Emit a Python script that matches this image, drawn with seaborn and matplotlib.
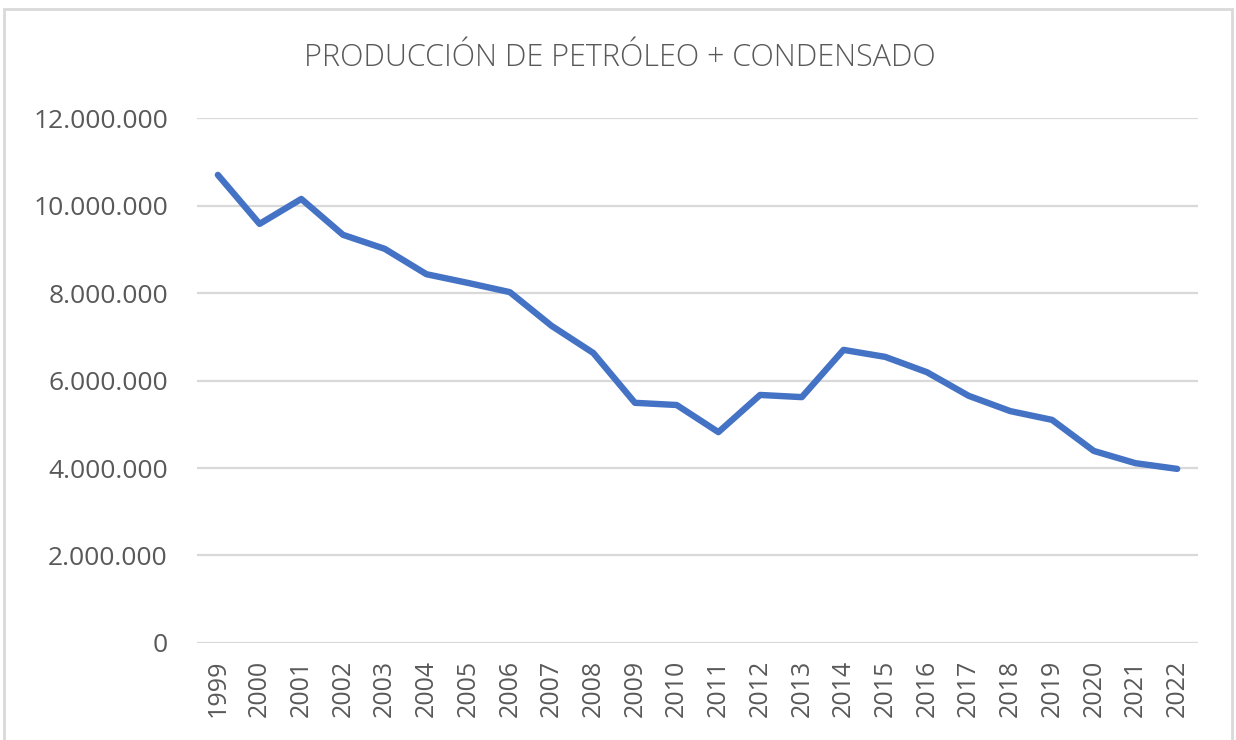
import matplotlib
matplotlib.use("Agg")
import matplotlib.pyplot as plt
import matplotlib.ticker as mticker
from matplotlib.patches import Rectangle
import pandas as pd
import seaborn as sns

# ----------------------------------------------
# Data
# ----------------------------------------------
YEARS = [str(y) for y in range(1999, 2023)]
PRODUCTION = [
    10_700_000, 9_580_000, 10_150_000, 9_330_000, 9_010_000, 8_430_000,
    8_230_000, 8_020_000, 7_250_000, 6_630_000, 5_490_000, 5_440_000,
    4_820_000, 5_670_000, 5_620_000, 6_700_000, 6_540_000, 6_190_000,
    5_650_000, 5_300_000, 5_100_000, 4_390_000, 4_110_000, 3_980_000,
]
Y_TICKS = [0, 2_000_000, 4_000_000, 6_000_000, 8_000_000, 10_000_000, 12_000_000]
TITLE = "PRODUCCIÓN DE PETRÓLEO + CONDENSADO"

LINE_COLOR = "#4472C4"
GRID_COLOR = "#D9D9D9"
TEXT_COLOR = "#595959"

df = pd.DataFrame({"year": YEARS, "production": PRODUCTION})

sns.set_theme(style="white")
plt.rcParams["font.family"] = ["Open Sans", "DejaVu Sans"]

fig = plt.figure(figsize=(12.36, 7.4), dpi=100)
ax = fig.add_axes([0.1594, 0.1311, 0.9693 - 0.1594, 0.8405 - 0.1311])

sns.lineplot(data=df, x="year", y="production", ax=ax, color=LINE_COLOR,
             linewidth=4.6, solid_capstyle="round", solid_joinstyle="round",
             sort=False)

ax.set_xlim(-0.5, len(YEARS) - 0.5)
ax.set_ylim(0, 12_000_000)
ax.set_yticks(Y_TICKS)
ax.yaxis.set_major_formatter(
    mticker.FuncFormatter(lambda v, _: f"{int(v):,}".replace(",", "."))
)
ax.grid(axis="y", color=GRID_COLOR, linewidth=1.6)
ax.set_axisbelow(True)
for side in ["top", "right", "left", "bottom"]:
    ax.spines[side].set_visible(False)

ax.set_xlabel("")
ax.set_ylabel("")
ax.tick_params(axis="y", labelsize=19, colors=TEXT_COLOR, length=0, pad=21)
ax.tick_params(axis="x", labelsize=18, colors=TEXT_COLOR, length=0, pad=12,
               labelrotation=90)

fig.text(0.5016, 0.921, TITLE, ha="center", va="center", fontsize=22,
         fontweight="light", color=TEXT_COLOR)

# light frame around the chart area
fig.patches.append(Rectangle((0.003, -0.01), 0.994, 0.998, transform=fig.transFigure,
                             fill=False, edgecolor=GRID_COLOR, linewidth=2))

fig.savefig("out.png", dpi=100)
plt.close(fig)
